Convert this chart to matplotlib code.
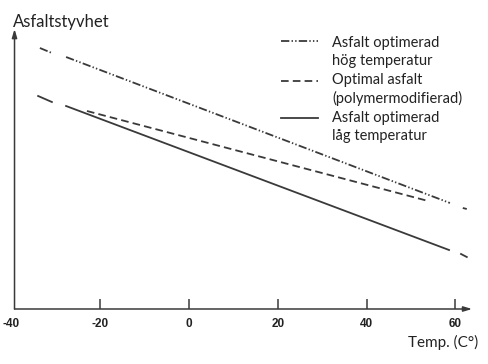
import matplotlib
matplotlib.use("Agg")
import matplotlib.pyplot as plt

plt.rcParams['lines.scale_dashes'] = False

# ---- data (x in °C, y in arbitrary stiffness units) ----
tick_values = [-40, -20, 0, 20, 40, 60]
tick_labels = ["-40", "-20", "0", "20", "40", "60"]

# each series is drawn as three pieces: short start dash, main line, short end dash
high_x = [[-33.6, -30.9], [-27.7, 58.8], [61.7, 62.6]]
high_y = [[261, 256], [252, 106], [101, 100]]

poly_x = [[-23.0, 53.9]]
poly_y = [[198, 108]]

low_x = [[-34.0, -30.9], [-27.7, 58.6], [61.3, 62.6]]
low_y = [[213, 207], [203, 59], [55, 52]]

labels = [["Asfalt optimerad", "hög temperatur"],
          ["Optimal asfalt", "(polymermodifierad)"],
          ["Asfalt optimerad", "låg temperatur"]]

col = "#3a3a3a"
ls_high = (0, (6, 1.6, 1, 1.6, 1, 1.6))
ls_poly = (0, (5.5, 3))
ls_low = "-"
lw = 1.3

fig = plt.figure(figsize=(4.89, 3.64), dpi=100)
ax = fig.add_axes([11.5 / 489, 55 / 364, 461.5 / 489, 280 / 364])
ax.set_xlim(-40, 64)
ax.set_ylim(0, 280)
for s in ax.spines.values():
    s.set_visible(False)

for xs, ys in zip(high_x, high_y):
    ax.plot(xs, ys, color=col, lw=lw, linestyle=ls_high, solid_capstyle='butt')
for xs, ys in zip(poly_x, poly_y):
    ax.plot(xs, ys, color=col, lw=lw, linestyle=ls_poly)
for xs, ys in zip(low_x, low_y):
    ax.plot(xs, ys, color=col, lw=lw, linestyle=ls_low)

# axes with arrows
x0 = -39.32
ax.annotate('', xy=(x0, 280), xytext=(x0, 0),
            arrowprops=dict(arrowstyle='-|>,head_length=0.5,head_width=0.15', color=col, lw=1.1,
                            shrinkA=0, shrinkB=0), annotation_clip=False)
ax.annotate('', xy=(63.8, 0), xytext=(x0, 0),
            arrowprops=dict(arrowstyle='-|>,head_length=0.5,head_width=0.15', color=col, lw=1.1,
                            shrinkA=0, shrinkB=0), annotation_clip=False)

ax.set_xticks(tick_values)
ax.set_xticklabels(tick_labels, fontfamily='Liberation Sans', fontweight='bold', fontsize=8.5,
                   color='#222222')
ax.tick_params(axis='x', direction='in', length=7, width=1.1, color=col, pad=6.5)
ax.xaxis.get_major_ticks()[0].tick1line.set_visible(False)
ax.set_yticks([])

ax.text(57.2, -33, "Temp. (C°)", fontfamily='Lato', fontsize=11, color='#222222',
        ha='center', va='center')
ax.text(-39.7, 282.5, "Asfaltstyvhet", fontfamily='Lato', fontsize=12, color='#222222',
        ha='left', va='baseline', clip_on=False)

# legend
styles = [ls_high, ls_poly, ls_low]
sample_y = [268, 228, 191]
text_y = [[266, 248], [229, 211], [191, 173]]
for st, sy, ty, lab in zip(styles, sample_y, text_y, labels):
    ax.plot([20.7, 29.1], [sy, sy], color=col, lw=lw, linestyle=st)
    for yy, tt in zip(ty, lab):
        ax.text(32.2, yy, tt, fontfamily='Lato', fontsize=10.5, color='#222222',
                ha='left', va='center')

fig.savefig("out.png", dpi=100)
